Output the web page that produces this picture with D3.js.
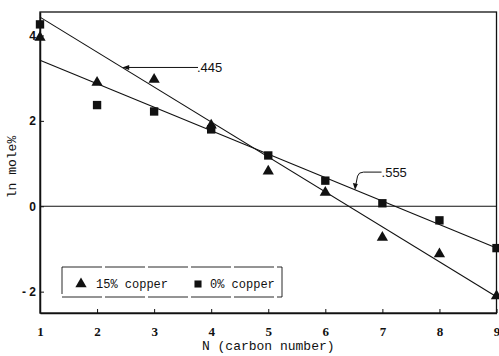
<!DOCTYPE html>
<html>
<head>
<meta charset="utf-8">
<script src="https://cdn.jsdelivr.net/npm/d3@7"></script>
<style>
  body { margin: 0; background: #fff; }
  svg { display: block; }
</style>
</head>
<body>
<div id="chart"></div>
<script>
// carbon numbers
const carbonN = [1, 2, 3, 4, 5, 6, 7, 8, 9];
// ln mole%
const copper15 = [3.95, 2.9, 2.97, 1.9, 0.82, 0.32, -0.73, -1.12, -2.1];
const copper0 = [4.26, 2.37, 2.22, 1.8, 1.19, 0.6, 0.07, -0.33, -0.98];
// fitted lines: value at N=1 and at N=9
const fitSteep = [4.43, -2.12];
const fitShallow = [3.42, -0.98];
const fitLabels = [".445", ".555"];
const xTicks = [1, 2, 3, 4, 5, 6, 7, 8, 9];
const yTicks = [-2, 0, 2, 4];

const width = 499, height = 356;
const margin = {top: 12, right: 2, bottom: 43, left: 40};

const svg = d3.select("#chart")
  .append("svg")
  .attr("width", width)
  .attr("height", height);

const x = d3.scaleLinear()
  .domain([1, 9])
  .range([margin.left, width - margin.right - 0.5]);

const y = d3.scaleLinear()
  .domain([-2.5, 4.55])
  .range([height - margin.bottom, margin.top]);

const ink = "#111";

// frame
svg.append("rect")
  .attr("x", x(1))
  .attr("y", y(4.55))
  .attr("width", x(9) - x(1))
  .attr("height", y(-2.5) - y(4.55))
  .attr("fill", "none")
  .attr("stroke", ink)
  .attr("stroke-width", 1.3);

// X axis
const xAxis = d3.axisBottom(x)
  .tickValues(xTicks)
  .tickSizeInner(-4)
  .tickSizeOuter(0)
  .tickPadding(14)
  .tickFormat(d3.format("d"));
const gx = svg.append("g")
  .attr("transform", `translate(0, ${y(-2.5)})`)
  .call(xAxis);
gx.select(".domain").attr("stroke", ink).attr("stroke-width", 1.5);
gx.selectAll(".tick line").attr("stroke", ink);
gx.selectAll("text")
  .attr("fill", ink)
  .style("font-family", "'Liberation Serif', serif")
  .style("font-weight", "bold")
  .style("font-size", "13px");

// Y axis
const yAxis = d3.axisLeft(y)
  .tickValues(yTicks)
  .tickSizeInner(-4)
  .tickSizeOuter(0)
  .tickPadding(4)
  .tickFormat(d => d < 0 ? "- " + Math.abs(d) : d);
const gy = svg.append("g")
  .attr("transform", `translate(${x(1)}, 0)`)
  .call(yAxis);
gy.select(".domain").attr("stroke", ink).attr("stroke-width", 1.5);
gy.selectAll(".tick line").attr("stroke", ink);
gy.selectAll("text")
  .attr("fill", ink)
  .style("font-family", "'Liberation Sans', sans-serif")
  .style("font-weight", "bold")
  .style("font-size", "12px");

// zero line
svg.append("line")
  .attr("x1", x(1)).attr("x2", x(9))
  .attr("y1", y(0)).attr("y2", y(0))
  .attr("stroke", ink)
  .attr("stroke-width", 1.2);

// fit lines
const fits = [fitSteep, fitShallow];
svg.selectAll(".fit")
  .data(fits)
  .join("line")
  .attr("class", "fit")
  .attr("x1", x(1)).attr("x2", x(9))
  .attr("y1", d => y(d[0]))
  .attr("y2", d => y(d[1]))
  .attr("stroke", ink)
  .attr("stroke-width", 1.1);

function fitAt(fit, n) {
  return fit[0] + (fit[1] - fit[0]) * (n - 1) / 8;
}

// markers
const tri = d3.symbol().type(d3.symbolTriangle).size(55);
const sq = d3.symbol().type(d3.symbolSquare).size(70);

svg.selectAll(".tri")
  .data(copper15)
  .join("path")
  .attr("class", "tri")
  .attr("d", tri)
  .attr("transform", (d, i) => `translate(${x(carbonN[i])},${y(d)})`)
  .attr("fill", ink);

svg.selectAll(".sq")
  .data(copper0)
  .join("path")
  .attr("class", "sq")
  .attr("d", sq)
  .attr("transform", (d, i) => `translate(${x(carbonN[i])},${y(d)})`)
  .attr("fill", ink);

// annotations
const annoFont = "'Liberation Sans', sans-serif";
const n445 = 2.44;
const ax1 = x(n445), ay1 = y(fitAt(fitSteep, n445));
svg.append("line")
  .attr("x1", ax1 + 4).attr("x2", 198)
  .attr("y1", ay1).attr("y2", ay1)
  .attr("stroke", ink).attr("stroke-width", 1);
svg.append("path")
  .attr("d", `M${ax1},${ay1} l7,-2.5 l0,5 z`)
  .attr("fill", ink);
svg.append("text")
  .attr("x", 197).attr("y", ay1 + 4.5)
  .text(fitLabels[0])
  .attr("fill", ink)
  .style("font-family", annoFont)
  .style("font-size", "13px");

const n555 = 6.53;
const ax2 = x(n555), ay2 = y(fitAt(fitShallow, n555));
svg.append("path")
  .attr("d", `M${ax2},${ay2 - 4} L${ax2 + 2},${ay2 - 14} Q${ax2 + 3},${ay2 - 18} ${ax2 + 8},${ay2 - 18} L${ax2 + 26},${ay2 - 18}`)
  .attr("fill", "none")
  .attr("stroke", ink).attr("stroke-width", 1);
svg.append("path")
  .attr("d", `M${ax2 - 0.5},${ay2} l-2.2,-7 l5,1 z`)
  .attr("fill", ink);
svg.append("text")
  .attr("x", ax2 + 26).attr("y", ay2 - 13.5)
  .text(fitLabels[1])
  .attr("fill", ink)
  .style("font-family", annoFont)
  .style("font-size", "13px");

// legend
const legendFont = "'Liberation Mono', 'DejaVu Sans Mono', monospace";
svg.append("rect")
  .attr("x", 62).attr("y", 267)
  .attr("width", 220).attr("height", 30)
  .attr("fill", "#fff")
  .attr("stroke", ink)
  .attr("stroke-width", 0.9)
  .attr("stroke-dasharray", "40,3");

const legendItems = [
  {label: "15% copper", shape: tri, size: 55, lx: 81, tx: 96},
  {label: "0% copper", shape: sq, size: 50, lx: 198, tx: 210}
];
const lg = svg.selectAll(".lg")
  .data(legendItems)
  .join("g")
  .attr("class", "lg");
lg.append("path")
  .attr("d", d => d.shape.size(d.size)())
  .attr("transform", d => `translate(${d.lx},284)`)
  .attr("fill", ink);
lg.append("text")
  .attr("x", d => d.tx).attr("y", 288)
  .text(d => d.label)
  .attr("fill", ink)
  .style("font-family", legendFont)
  .style("font-size", "12px");

// axis titles
svg.append("text")
  .attr("x", x(5)).attr("y", 350)
  .attr("text-anchor", "middle")
  .text("N (carbon number)")
  .attr("fill", ink)
  .style("font-family", legendFont)
  .style("font-size", "13px");

svg.append("text")
  .attr("transform", `translate(16, 167) rotate(-90)`)
  .attr("text-anchor", "middle")
  .text("ln mole%")
  .attr("fill", ink)
  .style("font-family", legendFont)
  .style("font-size", "13px");
</script>
</body>
</html>
